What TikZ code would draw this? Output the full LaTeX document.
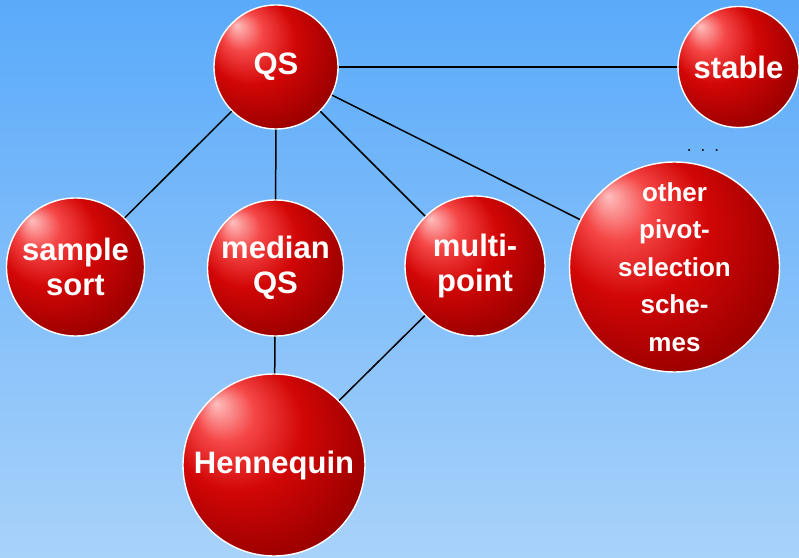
\documentclass[tikz,border=0pt]{standalone}
\usepackage{fontspec}
\newfontfamily\ballfont{Liberation Sans}
\definecolor{bgtop}{RGB}{90,170,250}
\definecolor{bgbot}{RGB}{168,210,250}
\definecolor{hlc}{RGB}{255,190,190}
\definecolor{brc}{RGB}{245,70,70}
\definecolor{mdc}{RGB}{210,6,6}
\definecolor{dkc}{RGB}{160,0,0}
\definecolor{edc}{RGB}{88,0,0}
\pgfdeclareradialshading{redball}{\pgfpoint{-16bp}{17bp}}{color(0bp)=(hlc); color(8bp)=(brc); color(18bp)=(mdc); color(31bp)=(dkc); color(50bp)=(edc)}
\tikzset{
  ballnode/.style={circle, draw=white, line width=1.4pt, shading=redball, inner sep=0pt,
    minimum size=#1, text=white, align=center, font=\ballfont\bfseries\fontsize{31}{35}\selectfont},
  smallball/.style={ballnode=#1, font=\ballfont\bfseries\fontsize{26}{37.5}\selectfont},
  link/.style={draw=black, line width=1.5pt}
}
\begin{document}
\begin{tikzpicture}[x=1pt,y=1pt]
\useasboundingbox (0,0) rectangle (799,557);
\shade[top color=bgtop, bottom color=bgbot] (0,0) rectangle (799,557);
\node[ballnode=124pt] (qs) at (276,490) {QS};
\node[ballnode=121pt] (stable) at (738.5,490) {stable};
\node[ballnode=138pt] (sample) at (75.5,290) {sample\\sort};
\node[ballnode=136pt] (median) at (275.5,289) {median\\QS};
\node[ballnode=140pt] (multi) at (475,291) {multi-\\point};
\node[smallball=210pt] (other) at (674.5,290) {other\\pivot-\\selection\\sche-\\mes};
\node[ballnode=182pt] (henn) at (274,92) {Hennequin};
\node[font=\fontsize{25}{25}\selectfont, anchor=base, inner sep=0pt] (dots) at (703,405.5) {.\ .\ .};
\draw[link] (qs) -- (stable);
\draw[link] (qs) -- (sample);
\draw[link] (qs) -- (median);
\draw[link] (qs) -- (multi);
\draw[link] (qs) -- (other);
\draw[link] (median) -- (henn);
\draw[link] (multi) -- (henn);
\end{tikzpicture}
\end{document}
